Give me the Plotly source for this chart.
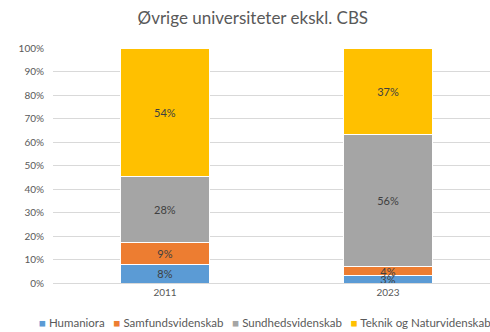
import plotly.graph_objects as go

years = ["2011", "2023"]
series_names = ["Humaniora", "Samfundsvidenskab", "Sundhedsvidenskab", "Teknik og Naturvidenskab"]
humaniora = [8, 3]
samfund = [9, 4]
sundhed = [28, 56]
teknik = [54, 37]
colors = ["#5B9BD5", "#ED7D31", "#A5A5A5", "#FFC000"]
y_ticks = list(range(0, 101, 10))

FONT = "Lato, Carlito, Calibri, sans-serif"

fig = go.Figure()
for name, vals, col in zip(series_names, [humaniora, samfund, sundhed, teknik], colors):
    fig.add_trace(go.Bar(
        name=name, x=years, y=vals, text=vals,
        texttemplate="%{text}%", textposition="inside", insidetextanchor="middle",
        textfont=dict(family=FONT, size=11, color="#404040"),
        marker=dict(color=col, line=dict(color="white", width=1)),
        width=0.4, showlegend=False,
    ))

# Compact legend line below the axis, built from the series names and colours
legend_html = "&nbsp;&nbsp;&nbsp;".join(
    f"<span style='color:{c}'>■</span>&nbsp;{n}" for n, c in zip(series_names, colors)
)

fig.update_layout(
    barmode="stack", barnorm="percent",
    width=490, height=332,
    margin=dict(l=53, r=0, t=48, b=49),
    paper_bgcolor="white", plot_bgcolor="white",
    font=dict(family=FONT, color="#595959"),
    title=dict(text="Øvrige universiteter ekskl. CBS", x=0.516, xanchor="center",
               y=0.945, yanchor="middle", font=dict(size=17, color="#595959", family=FONT)),
    uniformtext=dict(minsize=11, mode="show"),
    showlegend=False,
    annotations=[dict(text=legend_html, xref="paper", yref="paper", x=0.485, y=-0.166,
                      xanchor="center", yanchor="middle", showarrow=False,
                      font=dict(size=11.5, color="#595959", family=FONT))],
)
fig.update_xaxes(range=[-0.502, 1.457], showgrid=False, showline=True, linecolor="#D9D9D9",
                 ticks="", tickfont=dict(size=10, color="#595959", family=FONT))
fig.update_yaxes(range=[0, 100], tickvals=y_ticks, ticktext=[f"{v}%" for v in y_ticks],
                 showgrid=True, gridcolor="#D9D9D9", gridwidth=1, zeroline=False,
                 ticks="", tickfont=dict(size=10, color="#595959", family=FONT),
                 ticklabelstandoff=8)

fig.write_html("out.html")
